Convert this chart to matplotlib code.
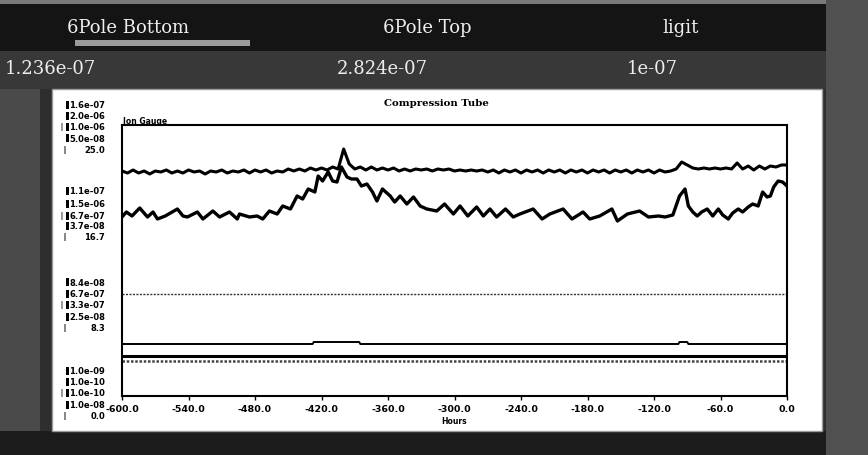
import numpy as np
import matplotlib
matplotlib.use("Agg")
import matplotlib.pyplot as plt
from matplotlib.patches import Rectangle

# ---- header readouts ----
gauge_names = ["6Pole Bottom", "6Pole Top", "ligit"]
gauge_values = ["1.236e-07", "2.824e-07", "1e-07"]

# ---- strip chart data (time in minutes, trace position in chart units 0..271) ----
x_ticks = [-600, -540, -480, -420, -360, -300, -240, -180, -120, -60, 0]

ion_time = np.arange(-600, 1, 5)
ion_gauge = [225, 223, 226, 223, 225, 222, 225, 224, 226, 223,
             225, 223, 226, 224, 225, 222, 225, 224, 226, 223,
             225, 224, 226, 223, 226, 224, 226, 223, 225, 224,
             227, 225, 227, 225, 228, 226, 228, 226, 229, 227,
             247, 232, 227, 229, 226, 229, 226, 228, 226, 228,
             225, 227, 225, 227, 226, 227, 225, 227, 226, 227,
             225, 226, 225, 226, 225, 226, 224, 226, 223, 226,
             224, 226, 223, 226, 224, 226, 223, 226, 224, 226,
             223, 226, 224, 226, 223, 226, 224, 226, 223, 226,
             224, 226, 223, 226, 224, 226, 223, 226, 224, 225,
             227, 234, 231, 228, 227, 228, 227, 228, 227, 228,
             227, 233, 227, 230, 226, 230, 227, 230, 229, 231, 231]

tube_time = [-600, -596, -591, -584, -577, -572, -568, -561, -550, -545,
             -541, -532, -527, -518, -512, -503, -496, -494, -485, -478,
             -473, -467, -460, -455, -448, -442, -437, -432, -426, -423,
             -419, -414, -410, -406, -402, -397, -393, -388, -384, -379,
             -374, -370, -365, -358, -354, -349, -343, -337, -331, -325,
             -316, -309, -301, -295, -288, -280, -274, -268, -262, -254,
             -247, -241, -229, -221, -214, -202, -194, -184, -178, -169,
             -158, -153, -144, -133, -125, -116, -110, -103, -97, -92,
             -89, -85, -81, -77, -72, -67, -62, -58, -53, -49,
             -44, -40, -35, -31, -26, -22, -18, -15, -12, -8, -4, 0]
tube_gauge = [179, 184, 180, 188, 179, 184, 177, 180, 187, 180,
              179, 184, 177, 185, 179, 184, 177, 182, 179, 180,
              177, 185, 182, 190, 187, 200, 197, 207, 204, 220,
              215, 224, 215, 214, 229, 219, 217, 217, 210, 212,
              204, 195, 207, 200, 194, 200, 192, 199, 190, 187,
              185, 192, 182, 190, 180, 189, 180, 187, 179, 187,
              179, 182, 187, 177, 182, 187, 177, 184, 177, 180,
              187, 175, 182, 185, 179, 180, 179, 181, 200, 207,
              190, 184, 180, 184, 187, 180, 187, 181, 177, 183,
              187, 184, 189, 192, 190, 204, 199, 200, 209, 215, 214, 210]

dotted_time = [-600, 0]
dotted_level = [102, 102]

step_time = [-600, -428, -427, -386, -385, -98, -97, -90, -89, 0]
step_level = [52, 52, 54, 54, 52, 52, 54, 54, 52, 52]

base_time = [-600, 0]
base_level = [40, 40]
base2_level = [35, 35]

# track scale labels (top to bottom within each track)
track_labels = [
    ["1.6e-07", "2.0e-06", "1.0e-06", "5.0e-08", "25.0"],
    ["1.1e-07", "1.5e-06", "6.7e-07", "3.7e-08", "16.7"],
    ["8.4e-08", "6.7e-07", "3.3e-07", "2.5e-08", "8.3"],
    ["1.0e-09", "1.0e-10", "1.0e-10", "1.0e-08", "0.0"],
]
track_label_y = [
    [106, 117, 128, 139, 151],
    [192, 205, 217, 227, 238],
    [283, 295, 306, 318, 329],
    [372, 383, 394, 406, 417],
]

W, H = 868, 456
fig = plt.figure(figsize=(W / 100, H / 100), dpi=100)
fig.patch.set_facecolor("#2e2e2e")


def fx(x):
    return x / W


def fy(y):
    return 1 - y / H


def box(x0, y0, x1, y1, color, z=0):
    fig.patches.append(Rectangle((fx(x0), fy(y1)), (x1 - x0) / W, (y1 - y0) / H,
                                 transform=fig.transFigure, facecolor=color,
                                 edgecolor="none", zorder=z))


# panel background blocks
box(0, 0, W, 5, "#7a7a7a")
box(0, 5, 826, 52, "#141414")
box(0, 52, 826, 90, "#383838")
box(0, 90, 40, 456, "#4a4a4a")
box(826, 0, W, 456, "#505050")
box(0, 432, 826, 456, "#1c1c1c")
box(75, 41, 250, 47, "#9a9a9a")

# white chart panel
fig.patches.append(Rectangle((fx(52), fy(432)), 770 / W, 342 / H,
                             transform=fig.transFigure, facecolor="white",
                             edgecolor="#9a9a9a", linewidth=1.0, zorder=1))

# header readouts
for name, cx in zip(gauge_names, [128, 427, 681]):
    fig.text(fx(cx), fy(28), name, color="#eeeeee", fontsize=13,
             family="DejaVu Serif", ha="center", va="center")
for val, x0 in zip(gauge_values, [5, 337, 627]):
    fig.text(fx(x0), fy(69), val, color="#eeeeee", fontsize=13,
             family="DejaVu Serif", ha="left", va="center")

# strip chart axes
ax = fig.add_axes([fx(122), fy(397), 665 / W, 271 / H])
ax.set_zorder(5)
ax.set_facecolor("white")
ax.plot(ion_time, ion_gauge, color="black", lw=2.2)
ax.plot(tube_time, tube_gauge, color="black", lw=2.4)
ax.plot(dotted_time, dotted_level, color="#333333", lw=1.0, ls=(0, (1.5, 1)))
ax.plot(step_time, step_level, color="black", lw=1.4)
ax.plot(base_time, base_level, color="black", lw=2.2)
ax.plot(base_time, base2_level, color="#444444", lw=1.8, ls=(0, (1, 0.7)))
ax.set_xlim(-600, 0)
ax.set_ylim(0, 271)
ax.set_yticks([])
ax.set_xticks(x_ticks)
ax.set_xticklabels([f"{t:.1f}" for t in x_ticks], fontsize=6.8,
                   fontweight="bold")
ax.tick_params(axis="x", direction="out", length=3, width=1, pad=3)
for s in ax.spines.values():
    s.set_linewidth(1.5)
    s.set_color("black")
ax.set_xlabel("Hours", fontsize=5.5, fontweight="bold", labelpad=2)

fig.text(fx(436), fy(103), "Compression Tube", fontsize=7.3, fontweight="bold",
         family="DejaVu Serif", ha="center", va="center", zorder=6)
fig.text(fx(123), fy(121), "Ion Gauge", fontsize=5.5, fontweight="bold",
         ha="left", va="center", zorder=6)

# track scale labels with their colour keys
for labels, ys in zip(track_labels, track_label_y):
    for i, (lab, y) in enumerate(zip(labels, ys)):
        fig.text(fx(105), fy(y), lab, fontsize=6, fontweight="bold",
                 ha="right", va="center", zorder=6)
        if i == 4:
            box(64, y - 4, 66, y + 4, "#888888", z=3)
        else:
            box(66, y - 4, 69, y + 4, "black", z=3)
            if i == 2:
                box(61, y - 4, 63, y + 4, "#999999", z=3)

fig.savefig("out.png", dpi=100, facecolor=fig.get_facecolor())
